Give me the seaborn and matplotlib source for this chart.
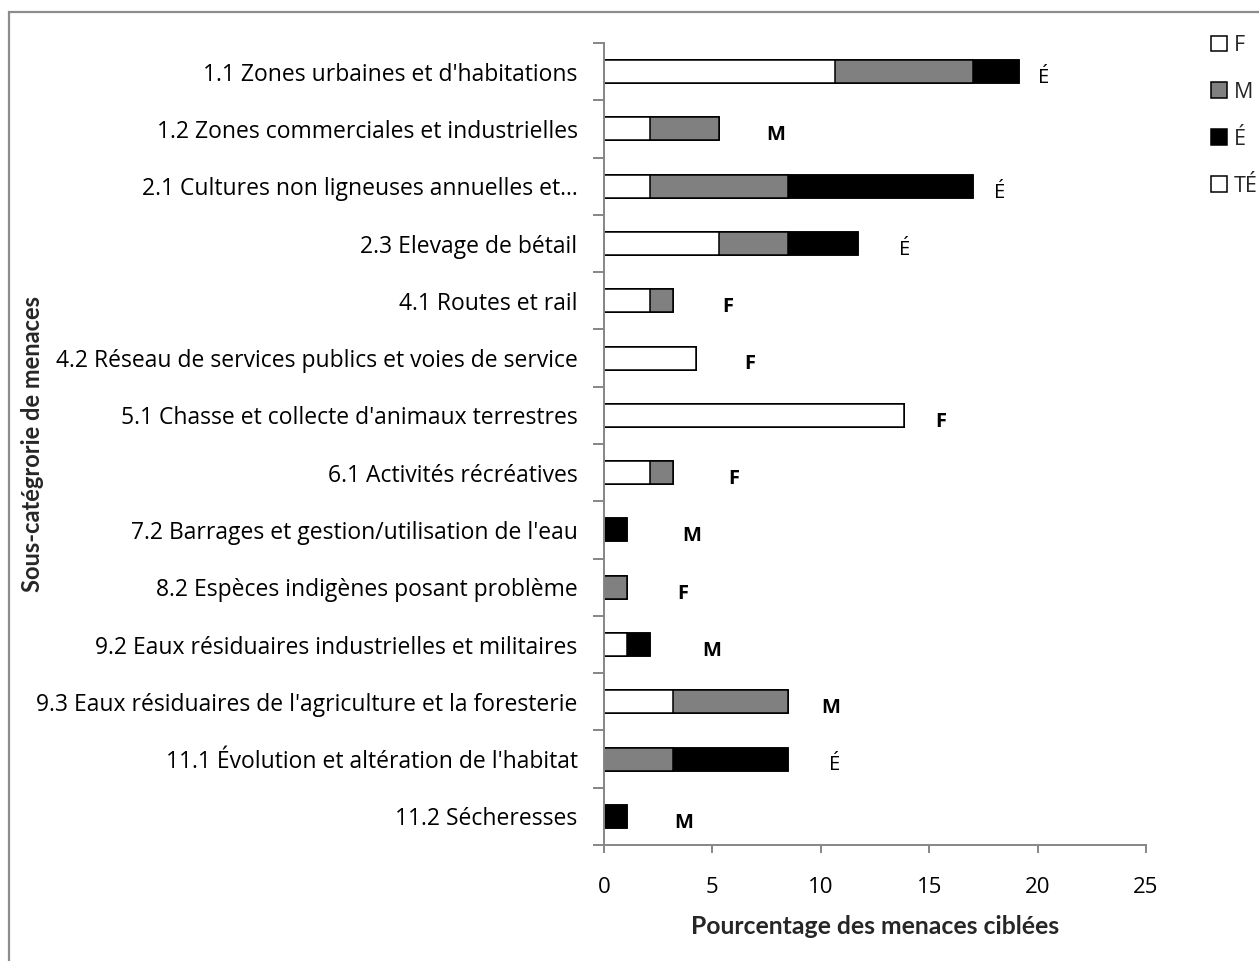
import numpy as np
import pandas as pd
import matplotlib
matplotlib.use("Agg")
import matplotlib.pyplot as plt
from matplotlib.patches import Rectangle
import seaborn as sns

# Threat sub-categories (top to bottom)
categories = [
    "1.1 Zones urbaines et d'habitations",
    "1.2 Zones commerciales et industrielles",
    "2.1 Cultures non ligneuses annuelles et\u2026",
    "2.3 Elevage de bétail",
    "4.1 Routes et rail",
    "4.2 Réseau de services publics et voies de service",
    "5.1 Chasse et collecte d'animaux terrestres",
    "6.1 Activités récréatives",
    "7.2 Barrages et gestion/utilisation de l'eau",
    "8.2 Espèces indigènes posant problème",
    "9.2 Eaux résiduaires industrielles et militaires",
    "9.3 Eaux résiduaires de l'agriculture et la foresterie",
    "11.1 Évolution et altération de l'habitat",
    "11.2 Sécheresses",
]

# Percentage of targeted threats, by impact level
f_vals = [10.64, 2.13, 2.13, 5.32, 2.13, 4.26, 13.83, 2.13, 0.0, 0.0, 1.06, 3.19, 0.0, 0.0]
m_vals = [6.38, 3.19, 6.38, 3.19, 1.06, 0.0, 0.0, 1.06, 0.0, 1.06, 0.0, 5.32, 3.19, 0.0]
e_vals = [2.13, 0.0, 8.51, 3.19, 0.0, 0.0, 0.0, 0.0, 1.06, 0.0, 1.06, 0.0, 5.32, 1.06]
te_vals = [0.0] * 14

# Overall rating written beside each bar
overall = ["É", "M", "É", "É", "F", "F", "F", "F", "M", "F", "M", "M", "É", "M"]

series_names = ["F", "M", "É", "TÉ"]
series_colors = ["white", "#808080", "black", "white"]
x_ticks = [0, 5, 10, 15, 20, 25]

# Horizontal nudges for the rating labels (data units)
label_dx = [1.15, 2.6, 1.25, 2.15, 2.5, 2.45, 1.7, 2.8, 3.0, 2.55, 2.85, 1.95, 2.15, 2.6]

sns.set_theme(style="white")
body_font = ["Open Sans", "DejaVu Sans"]
title_font = ["Lato", "DejaVu Sans"]
plt.rcParams["font.family"] = body_font

df = pd.DataFrame({"cat": categories, "F": f_vals, "M": m_vals, "É": e_vals, "TÉ": te_vals})
cum = df[series_names].cumsum(axis=1)

fig = plt.figure(figsize=(12.59, 9.61), dpi=100)
ax = fig.add_axes([604 / 1259, 1 - 845 / 961, (1146 - 604) / 1259, (845 - 43) / 961])

# Stacked bars: draw cumulative totals from the outermost segment inward
handles = {}
for name, color in reversed(list(zip(series_names, series_colors))):
    sns.barplot(x=cum[name], y=df["cat"], orient="h", color=color, width=0.4,
                edgecolor="black", linewidth=1.1, saturation=1, ax=ax, label=name)
    handles[name] = ax.containers[-1].patches[0]

ax.set_xlim(0, 25)
ax.set_ylim(len(categories) - 0.5, -0.5)
ax.set_xticks(x_ticks)
ax.set_xticklabels([str(t) for t in x_ticks])

spine_color = "#868686"
for side in ["top", "right"]:
    ax.spines[side].set_visible(False)
for side in ["left", "bottom"]:
    ax.spines[side].set_color(spine_color)
    ax.spines[side].set_linewidth(1.4)

ax.set_yticks(np.arange(-0.5, len(categories)), minor=True)
ax.tick_params(axis="y", which="minor", left=True, length=8, width=1.4, color=spine_color)
ax.tick_params(axis="y", which="major", left=False, length=0, pad=19, labelsize=16.5, labelcolor="black")
ax.tick_params(axis="x", which="major", bottom=True, length=6, width=1.4, color=spine_color,
               pad=17, labelsize=16, labelcolor="black")

ax.set_xlabel("Pourcentage des menaces ciblées", fontsize=17.8, fontweight="bold",
              family=title_font, labelpad=12)
ax.set_ylabel("")
fig.text(33 / 1259, 1 - 444 / 961, "Sous-catégrorie de menaces", rotation=90, ha="center",
         va="center", fontsize=17, fontweight="bold", family=title_font)

totals = cum["TÉ"].to_numpy()
for i, (tot, lab, dx) in enumerate(zip(totals, overall, label_dx)):
    ax.text(tot + dx, i + 0.11, lab, ha="center", va="center", fontsize=14.5,
            fontweight="normal" if lab == "É" else "bold", color="black")

if ax.get_legend():
    ax.get_legend().remove()
fig.legend([handles[n] for n in series_names], series_names, loc="upper left",
           bbox_to_anchor=(1211 / 1259, 1 - 35 / 961), frameon=False, fontsize=15.5,
           handlelength=0.75, handleheight=0.75, handletextpad=0.3, labelspacing=1.2,
           borderaxespad=0, borderpad=0)

# Chart-area border
fig.patches.append(Rectangle((9 / 1259, -0.05), 1.2, 1.05 - 12 / 961, transform=fig.transFigure,
                             fill=False, edgecolor="#8c8c8c", linewidth=1.6, clip_on=False))

fig.savefig("out.png", dpi=100, facecolor="white")
